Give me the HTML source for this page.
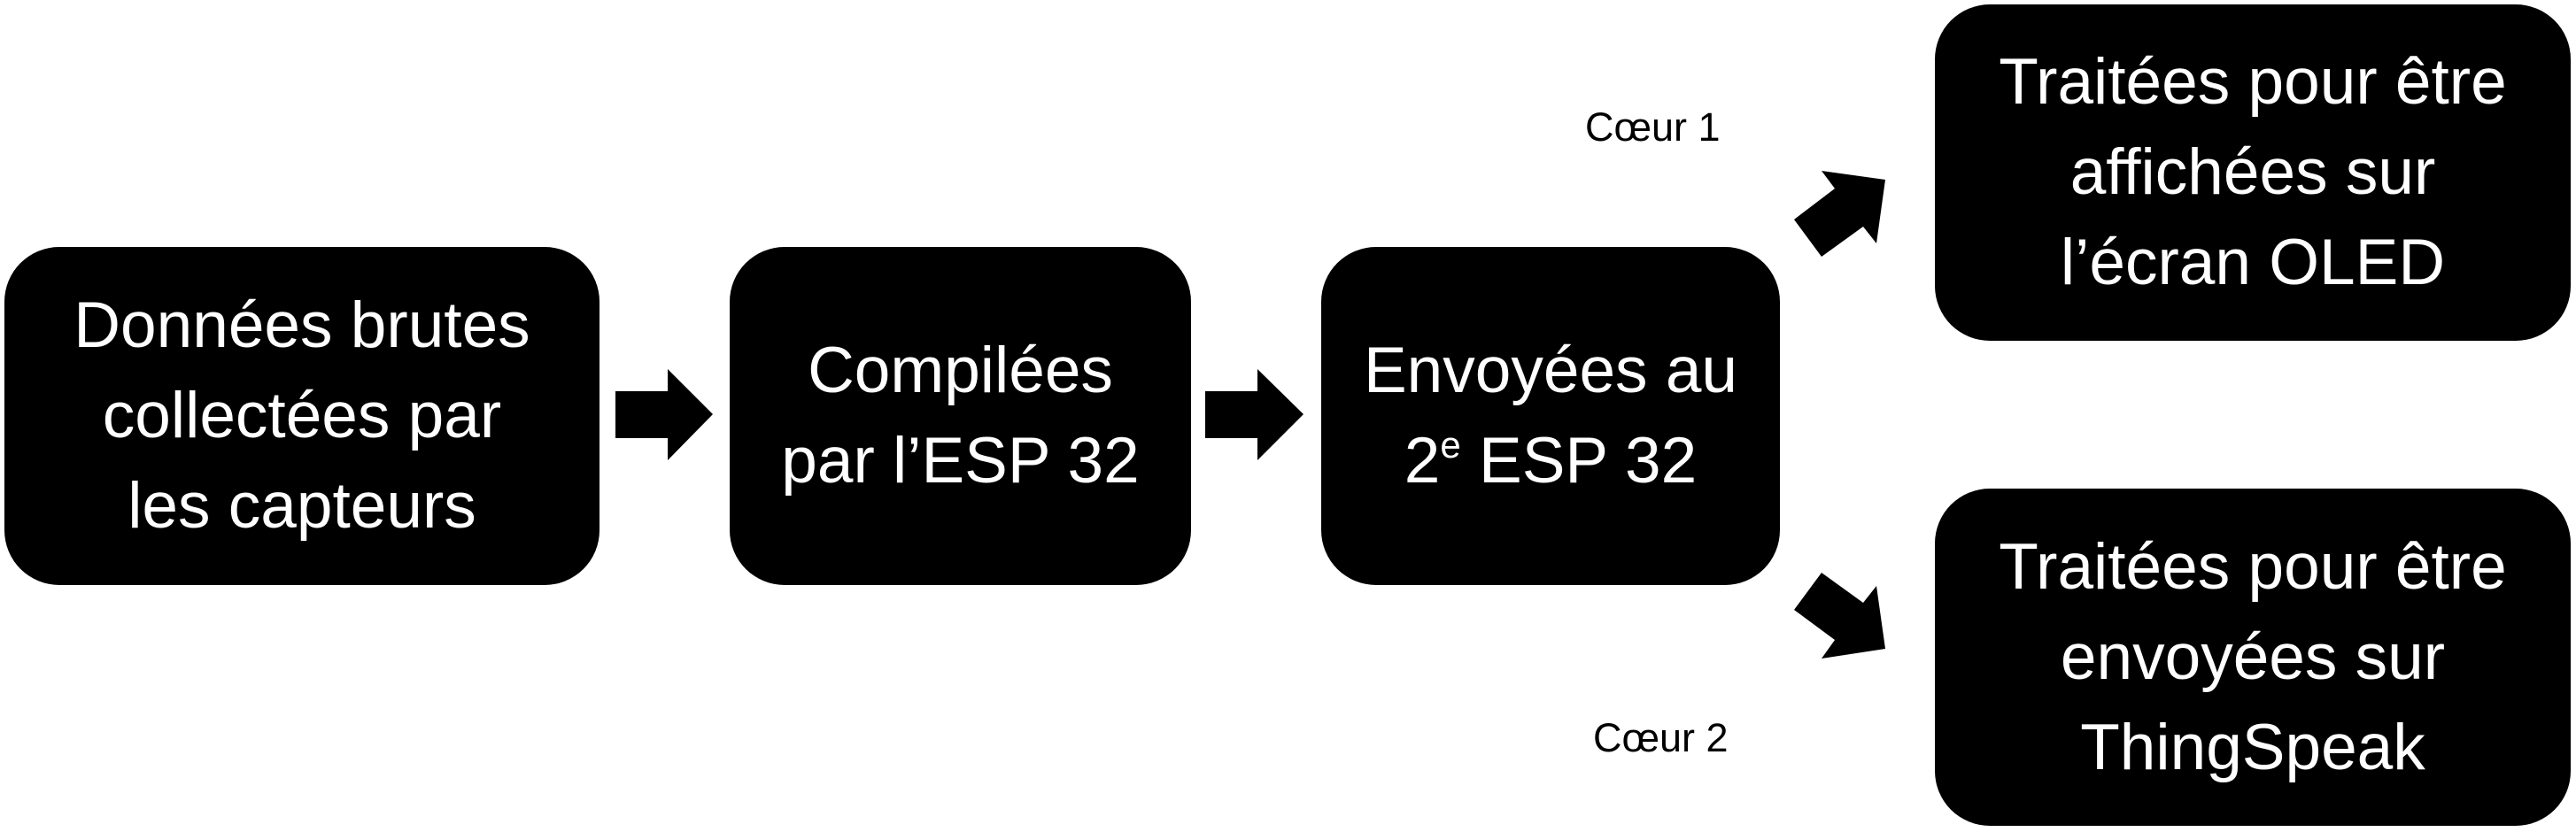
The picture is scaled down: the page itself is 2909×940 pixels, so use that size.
<!DOCTYPE html>
<html><head><meta charset="utf-8"><style>
html,body{margin:0;padding:0;background:#fff;}
body{width:2909px;height:940px;position:relative;overflow:hidden;font-family:"Liberation Sans",sans-serif;}
.b{position:absolute;background:#000;border-radius:62px;color:#fff;display:flex;align-items:center;justify-content:center;text-align:center;font-size:73px;line-height:102px;}
.l{position:absolute;font-size:45px;color:#000;}
sup{font-size:42px;line-height:0;vertical-align:28px;}
</style></head><body>
<div class="b" style="left:5px;top:279px;width:672px;height:382px;"><div>Données brutes<br>collectées par<br>les capteurs</div></div>
<div class="b" style="left:824px;top:279px;width:521px;height:382px;"><div>Compilées<br>par l’ESP 32</div></div>
<div class="b" style="left:1492px;top:279px;width:518px;height:382px;"><div>Envoyées au<br>2<sup>e</sup> ESP 32</div></div>
<div class="b" style="left:2185px;top:5px;width:718px;height:380px;"><div>Traitées pour être<br>affichées sur<br>l’écran OLED</div></div>
<div class="b" style="left:2185px;top:552px;width:718px;height:381px;"><div>Traitées pour être<br>envoyées sur<br>ThingSpeak</div></div>
<div class="l" style="left:1790px;top:118px;">Cœur 1</div>
<div class="l" style="left:1799px;top:808px;">Cœur 2</div>
<svg width="2909" height="940" style="position:absolute;left:0;top:0">
<polygon points="695,442 754,442 754,417 805,468 754,520 754,495 695,495" fill="#000"/>
<polygon points="1361,442 1420,442 1420,417 1472,468 1420,520 1420,495 1361,495" fill="#000"/>
<polygon points="2057,193 2129,203 2119,275 2104,256 2057,290 2026,248 2072,213" fill="#000"/>
<polygon points="2057,744 2129,733 2119,662 2104,681 2057,647 2026,689 2072,723" fill="#000"/>
</svg>
</body></html>
